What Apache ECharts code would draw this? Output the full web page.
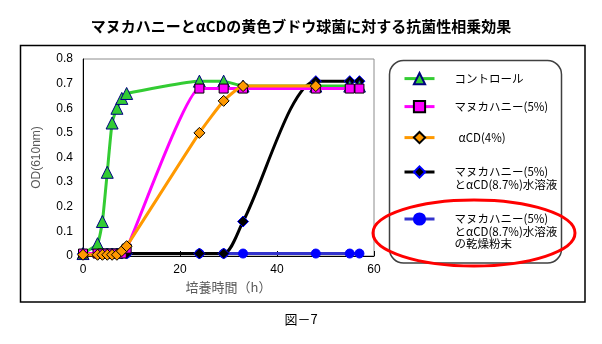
<!DOCTYPE html>
<html>
<head>
<meta charset="utf-8">
<style>
  html, body { margin: 0; padding: 0; background: #fff; }
  #chart { width: 602px; height: 344px; }
</style>
<script src="https://cdn.jsdelivr.net/npm/echarts@6/dist/echarts.min.js"></script>
</head>
<body>
<div id="chart"></div>
<script>
// Sampling times (h)
const hours = [0, 3, 4, 5, 6, 7, 8, 9, 24, 29, 33, 48, 55, 57];

// OD(610nm) readings per culture condition
const controlOD   = [0.01, 0.05, 0.14, 0.34, 0.54, 0.60, 0.64, 0.66, 0.71, 0.71, 0.69, 0.69, 0.69, 0.69];
const honeyOD     = [0.01, 0.01, 0.01, 0.01, 0.01, 0.01, 0.01, 0.03, 0.68, 0.68, 0.68, 0.68, 0.68, 0.68];
const cdOD        = [0.005, 0.005, 0.005, 0.005, 0.005, 0.005, 0.02, 0.04, 0.50, 0.63, 0.69, 0.69, null, null];
const solutionOD  = [0.01, 0.01, 0.01, 0.01, 0.01, 0.01, 0.01, 0.01, 0.01, 0.01, 0.14, 0.71, 0.71, 0.71];
const powderOD    = [0.01, 0.01, 0.01, 0.01, 0.01, 0.01, 0.01, 0.01, 0.01, 0.01, 0.01, 0.01, 0.01, 0.01];

// Series labels (also used as legend text)
const seriesNames = [
  'コントロール',
  'マヌカハニー(5%)',
  'αCD(4%)',
  'マヌカハニー(5%)\nとαCD(8.7%)水溶液',
  'マヌカハニー(5%)\nとαCD(8.7%)水溶液\nの乾燥粉末'
];

// Axis ticks
const xTicks = { min: 0, max: 60, step: 20 };
const yTicks = { min: 0, max: 0.8, step: 0.1 };

const pairs = vals => hours.map((h, i) => [h, vals[i]]);

const JP = '"Noto Sans CJK JP", "Noto Sans", sans-serif';
const LAT = '"Liberation Sans", Arial, sans-serif';

function lineSeries(name, vals, opts) {
  return {
    name: name,
    type: 'line',
    data: pairs(vals),
    smooth: opts.smooth,
    connectNulls: false,
    symbol: opts.symbol,
    symbolSize: opts.size,
    showAllSymbol: true,
    z: opts.z,
    lineStyle: { color: opts.line, width: 3 },
    itemStyle: { color: opts.fill, borderColor: opts.border, borderWidth: 1 },
    emphasis: { disabled: true },
    animation: false
  };
}

const series = [
  lineSeries(seriesNames[4], powderOD,   { smooth: 0.12, symbol: 'circle',   size: 9,  fill: '#0000ff', border: '#0000ff', line: '#3333cc', z: 2 }),
  lineSeries(seriesNames[3], solutionOD, { smooth: 0.28, symbol: 'diamond',  size: 11, fill: '#000000', border: '#0000ff', line: '#000000', z: 3 }),
  lineSeries(seriesNames[0], controlOD,  { smooth: 0.15, symbol: 'triangle', size: 12, fill: '#33cc33', border: '#000080', line: '#33cc33', z: 4 }),
  lineSeries(seriesNames[1], honeyOD,    { smooth: 0.15, symbol: 'rect',     size: 9,  fill: '#ff00ff', border: '#000000', line: '#ff00ff', z: 5 }),
  lineSeries(seriesNames[2], cdOD,       { smooth: 0.15, symbol: 'diamond',  size: 11, fill: '#ff9900', border: '#000000', line: '#ff9900', z: 6 })
];

// Legend: one block per series; blank leading lines keep the icon level with the first text line
const legendRows = [79, 107, 138, 172, 219];
const legendLeftPad = [15, 15, 19, 15, 15];
const LH = 12.5;
const IH = 14;
const legends = seriesNames.map((name, i) => {
  const n = name.split('\n').length;
  const half = Math.max(IH / 2, (2 * n - 1) * LH / 2);
  return {
    data: [name],
    orient: 'vertical',
    left: 403,
    top: legendRows[i] - half,
    padding: 0,
    itemWidth: 30,
    itemHeight: IH,
    selectedMode: false,
    lineStyle: { width: 3 },
    formatter: label => ' \n'.repeat(n - 1) + label,
    textStyle: {
      fontFamily: JP,
      fontSize: 11.5,
      color: '#000',
      lineHeight: LH,
      padding: [0, 0, 0, legendLeftPad[i]]
    }
  };
});

const chart = echarts.init(document.getElementById('chart'), null, { renderer: 'canvas' });
chart.setOption({
  animation: false,
  backgroundColor: '#fff',
  title: {
    text: 'マヌカハニーとαCDの黄色ブドウ球菌に対する抗菌性相乗効果',
    left: 'center',
    top: 19,
    padding: 0,
    textStyle: { fontFamily: JP, fontSize: 15, fontWeight: 'bold', color: '#000' }
  },
  grid: {
    left: 83, top: 59, right: 228, bottom: 88,
    show: true, borderColor: '#8c8c8c', borderWidth: 1, backgroundColor: 'transparent'
  },
  legend: legends,
  xAxis: {
    type: 'value',
    min: xTicks.min, max: xTicks.max, interval: xTicks.step,
    name: '培養時間（h）',
    nameLocation: 'middle',
    nameGap: 24,
    nameTextStyle: { fontFamily: JP, fontSize: 13, color: '#595959' },
    axisLine: { show: true, lineStyle: { color: '#000', width: 1 } },
    axisTick: { show: true, inside: true, length: 5, lineStyle: { color: '#000' } },
    axisLabel: { fontFamily: LAT, fontSize: 12, color: '#000', margin: 8 },
    splitLine: { show: false }
  },
  yAxis: {
    type: 'value',
    min: yTicks.min, max: yTicks.max, interval: yTicks.step,
    name: 'OD(610nm)',
    nameLocation: 'middle',
    nameGap: 40,
    nameTextStyle: { fontFamily: LAT, fontSize: 12, color: '#595959' },
    axisLine: { show: true, lineStyle: { color: '#000', width: 1 } },
    axisTick: { show: false },
    axisLabel: { fontFamily: LAT, fontSize: 12, color: '#000', margin: 10 },
    splitLine: { show: false }
  },
  graphic: [
    {
      type: 'rect', z: -10, silent: true,
      shape: { x: 20.5, y: 45.5, width: 564.5, height: 256.5 },
      style: { fill: null, stroke: '#000', lineWidth: 1.5 }
    },
    {
      type: 'rect', z: -5, silent: true,
      shape: { x: 389.5, y: 60.5, width: 172, height: 202.5, r: 14 },
      style: { fill: '#fff', stroke: '#404040', lineWidth: 1.5 }
    },
    {
      type: 'ellipse', z: 100, silent: true,
      shape: { cx: 474, cy: 233, rx: 101, ry: 33 },
      style: { fill: null, stroke: '#ff0000', lineWidth: 3 }
    },
    {
      type: 'text', silent: true,
      left: 'center', top: 313,
      style: { text: '図－7', fontFamily: JP, fontSize: 13, fill: '#000' }
    }
  ],
  series: series
});
</script>
</body>
</html>
